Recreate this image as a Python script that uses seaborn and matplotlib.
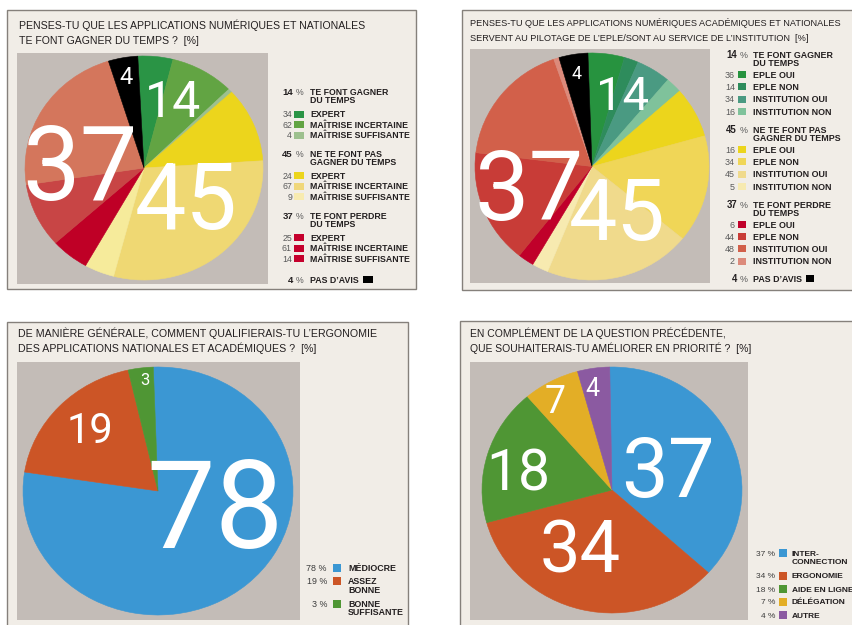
import numpy as np
import matplotlib
matplotlib.use('Agg')
import matplotlib.pyplot as plt
from matplotlib.patches import Rectangle
import seaborn as sns

# --- CONFIGURATION ---
sns.set_style('white')
NARROW = ['Liberation Sans Narrow', 'Liberation Sans', 'DejaVu Sans']
NUM_FONT = ['Roboto', 'Lato', 'DejaVu Sans']
plt.rcParams['font.family'] = NARROW

W, H = 852, 625
INK = '#231f20'
GREY_TXT = '#5a5a5a'
PANEL_BG = '#f1ede7'
PANEL_EDGE = '#85807b'
PLOT_BG = '#c3bcb7'

# --- DATA ---
# 1. gagner du temps
t1_title = ['PENSES-TU QUE LES APPLICATIONS NUMÉRIQUES ET NATIONALES',
            'TE FONT GAGNER DU TEMPS ?  [%]']
t1_groups = ['TE FONT GAGNER\nDU TEMPS', 'NE TE FONT PAS\nGAGNER DU TEMPS', 'TE FONT PERDRE\nDU TEMPS']
t1_group_pct = [14, 45, 37]
t1_no_opinion = 4
t1_levels = ['EXPERT', 'MAÎTRISE INCERTAINE', 'MAÎTRISE SUFFISANTE']
t1_shares = [[34, 62, 4], [24, 67, 9], [25, 61, 14]]
t1_pie_order = [[0, 1, 2], [0, 1, 2], [2, 0, 1]]
t1_pie_colors = [['#2a9445', '#62a443', '#9dc08e'],
                 ['#ecd51c', '#efd873', '#f6eb9b'],
                 ['#bf0026', '#c84545', '#d4765c']]
t1_key_colors = [['#2a9445', '#62a443', '#9dc08e'],
                 ['#ecd51c', '#f0d77a', '#f8ebb0'],
                 ['#c5002c', '#c5002c', '#c5002c']]

# 2. pilotage / institution
t2_title = ['PENSES-TU QUE LES APPLICATIONS NUMÉRIQUES ACADÉMIQUES ET NATIONALES',
            'SERVENT AU PILOTAGE DE L’EPLE/SONT AU SERVICE DE L’INSTITUTION  [%]']
t2_groups = t1_groups
t2_group_pct = [14, 45, 37]
t2_no_opinion = 4
t2_levels = ['EPLE OUI', 'EPLE NON', 'INSTITUTION OUI', 'INSTITUTION NON']
t2_shares = [[36, 14, 34, 16], [16, 34, 45, 5], [6, 44, 48, 2]]
t2_colors = [['#27933f', '#2e8c5c', '#4a9a82', '#7fc29b'],
             ['#ecd51c', '#f0d657', '#f0da8c', '#f7eab0'],
             ['#c0002a', '#c83c37', '#d2604a', '#dc8a7b']]

# 3. ergonomie
t3_title = ['DE MANIÈRE GÉNÉRALE, COMMENT QUALIFIERAIS-TU L’ERGONOMIE',
            'DES APPLICATIONS NATIONALES ET ACADÉMIQUES ?  [%]']
t3_labels = ['MÉDIOCRE', 'ASSEZ\nBONNE', 'BONNE\nSUFFISANTE']
t3_values = [78, 19, 3]
t3_colors = ['#3b97d3', '#cc5526', '#4f9634']

# 4. priorités
t4_title = ['EN COMPLÉMENT DE LA QUESTION PRÉCÉDENTE,',
            'QUE SOUHAITERAIS-TU AMÉLIORER EN PRIORITÉ ?  [%]']
t4_labels = ['INTER-\nCONNECTION', 'ERGONOMIE', 'AIDE EN LIGNE', 'DÉLÉGATION', 'AUTRE']
t4_values = [37, 34, 18, 7, 4]
t4_colors = ['#3b97d3', '#cc5526', '#4f9634', '#e3ae26', '#8b5aa1']

fig = plt.figure(figsize=(W / 100, H / 100), dpi=100, facecolor='white')
bg = fig.add_axes([0, 0, 1, 1])
bg.set_xlim(0, W)
bg.set_ylim(H, 0)
bg.axis('off')
renderer = fig.canvas.get_renderer()


def put(x, y, s, size, weight='normal', color=INK, ha='left'):
    # y is the centre of the capitals, in pixels from the top
    return bg.text(x, y + 0.5 * size, s, fontsize=size, fontweight=weight,
                   color=color, ha=ha, va='baseline')


def box(x0, y0, x1, y1, face, edge='none', lw=0):
    bg.add_patch(Rectangle((x0, y0), x1 - x0, y1 - y0, facecolor=face,
                           edgecolor=edge, linewidth=lw))


def panel(frame, plot_area, title, tx, ty, size):
    box(*frame, PANEL_BG, PANEL_EDGE, 1.0)
    box(*plot_area, PLOT_BG)
    for i, line in enumerate(title):
        put(tx, ty + 15 * i, line, size)


def draw_pie(center, rx, ry, sizes, colors, start):
    cx, cy = center
    ax = fig.add_axes([(cx - rx) / W, 1 - (cy + ry) / H, 2 * rx / W, 2 * ry / H])
    wedges, _ = ax.pie(sizes, colors=colors, startangle=start, counterclock=False)
    for w in wedges:
        w.set_edgecolor(w.get_facecolor())
        w.set_linewidth(0.4)
    ax.set_aspect('auto')
    ax.set_xlim(-1, 1)
    ax.set_ylim(-1, 1)
    ax.axis('off')
    return ax


def pie_numbers(ax, values, start, layout):
    cum = np.concatenate([[0], np.cumsum(values)])
    for i, v in enumerate(values):
        r, dtheta, fs = layout[i]
        mid = np.radians(start - 3.6 * (cum[i] + cum[i + 1]) / 2 + dtheta)
        ax.annotate(str(v), (r * np.cos(mid), r * np.sin(mid)), xytext=(0, -0.355 * fs),
                    textcoords='offset points', ha='center', va='baseline',
                    fontsize=fs, color='white', fontweight='normal', family=NUM_FONT)


def group_key(groups, pcts, levels, shares, colors, no_opinion, x, top, step,
              head_gap, tail_gap, pas_gap, sq, size):
    x_pct, x_num, x_sq, x_lab = x
    y = top
    for g, name in enumerate(groups):
        put(x_pct, y, str(pcts[g]), size + 0.5, 'bold', ha='right')
        put(x_pct + 3, y, '%', size, color=GREY_TXT)
        for j, line in enumerate(name.split('\n')):
            put(x_lab, y + 8.3 * j, line, size, 'bold')
        yi = y + head_gap
        for k, lev in enumerate(levels):
            yk = yi + k * step
            put(x_num, yk, str(shares[g][k]), size, color=GREY_TXT, ha='right')
            box(x_sq, yk - sq[1] / 2, x_sq + sq[0], yk + sq[1] / 2, colors[g][k])
            put(x_lab, yk, lev, size, 'bold')
        last = yi + (len(levels) - 1) * step
        y = last + tail_gap
    yp = last + pas_gap
    put(x_pct, yp, str(no_opinion), size + 0.5, 'bold', ha='right')
    put(x_pct + 3, yp, '%', size, color=GREY_TXT)
    t = put(x_lab, yp, 'PAS D’AVIS', size, 'bold')
    x_end = bg.transData.inverted().transform(t.get_window_extent(renderer))[1][0]
    box(x_end + 4, yp - sq[1] / 2, x_end + 4 + sq[0], yp + sq[1] / 2, 'black')


def simple_key(labels, values, colors, x, top, step, extra, sq, size):
    x_pct, x_sq, x_lab = x
    y = top
    for lab, v, c in zip(labels, values, colors):
        put(x_pct, y, f'{v} %', size, color='#3c3c3c', ha='right')
        box(x_sq, y - sq / 2, x_sq + sq, y + sq / 2, c)
        lines = lab.split('\n')
        for j, line in enumerate(lines):
            put(x_lab, y + 8.5 * j, line, size, 'bold')
        y += step + extra * (len(lines) - 1)


# --- PANEL 1 ---
panel((7, 10, 416, 289), (17, 53, 268, 284), t1_title, 19, 25, 7.6)
p1_sizes, p1_cols = [], []
for g in range(3):
    for pos, k in enumerate(t1_pie_order[g]):
        p1_sizes.append(t1_group_pct[g] * t1_shares[g][k] / 100)
        p1_cols.append(t1_pie_colors[g][pos])
p1_sizes.append(t1_no_opinion)
p1_cols.append('black')
ax1 = draw_pie((144, 168), 119, 112, p1_sizes, p1_cols, 93)
pie_numbers(ax1, t1_group_pct + [t1_no_opinion], 93,
            [(0.66, 0.5, 36), (0.44, 2.6, 66), (0.54, 2, 74), (0.84, 0, 17)])
group_key(t1_groups, t1_group_pct, t1_levels, t1_shares, t1_key_colors, t1_no_opinion,
          (293, 292, 294, 310), 92, 10.6, 22, 18.5, 21, (10, 7), 6.3)

# --- PANEL 2 ---
panel((462, 10, 880, 290), (470, 49, 710, 283), t2_title, 470, 23, 6.6)
p2_sizes, p2_cols = [], []
for g in range(3):
    for k in range(4):
        p2_sizes.append(t2_group_pct[g] * t2_shares[g][k] / 100)
        p2_cols.append(t2_colors[g][k])
p2_sizes.append(t2_no_opinion)
p2_cols.append('black')
ax2 = draw_pie((592, 166.5), 117, 113.5, p2_sizes, p2_cols, 92)
pie_numbers(ax2, t2_group_pct + [t2_no_opinion], 92,
            [(0.70, 1, 34), (0.44, -21, 62), (0.56, 24, 70), (0.84, 0, 13)])
group_key(t2_groups, t2_group_pct, t2_levels, t2_shares, t2_colors, t2_no_opinion,
          (737, 735, 738, 753), 55, 12.3, 19.5, 18.5, 17.5, (8, 7), 6.4)

# --- PANEL 3 ---
panel((7, 322, 408, 660), (17, 362, 300, 620), t3_title, 18, 333, 7.7)
ax3 = draw_pie((158, 491), 135, 124, t3_values, t3_colors, 92)
pie_numbers(ax3, t3_values, 92, [(0.435, 33.4, 88), (0.716, -2.2, 30), (0.91, -1.4, 12)])
simple_key(t3_labels, t3_values, t3_colors, (327, 333, 348), 568, 13, 9.5, 8, 6.4)

# --- PANEL 4 ---
panel((460, 321, 880, 660), (470, 362, 748, 620), t4_title, 470, 333, 7.5)
ax4 = draw_pie((612, 490), 130, 123, t4_values, t4_colors, 91)
pie_numbers(ax4, t4_values, 91, [(0.47, -0.9, 60), (0.524, -14.6, 52), (0.74, 4.3, 41),
                                 (0.853, 2.9, 27), (0.85, 2.2, 18)])
simple_key(t4_labels, t4_values, t4_colors, (775, 779, 792), 553, 13, 9.5, 8, 6.0)

fig.savefig('out.png', dpi=100, facecolor='white')
